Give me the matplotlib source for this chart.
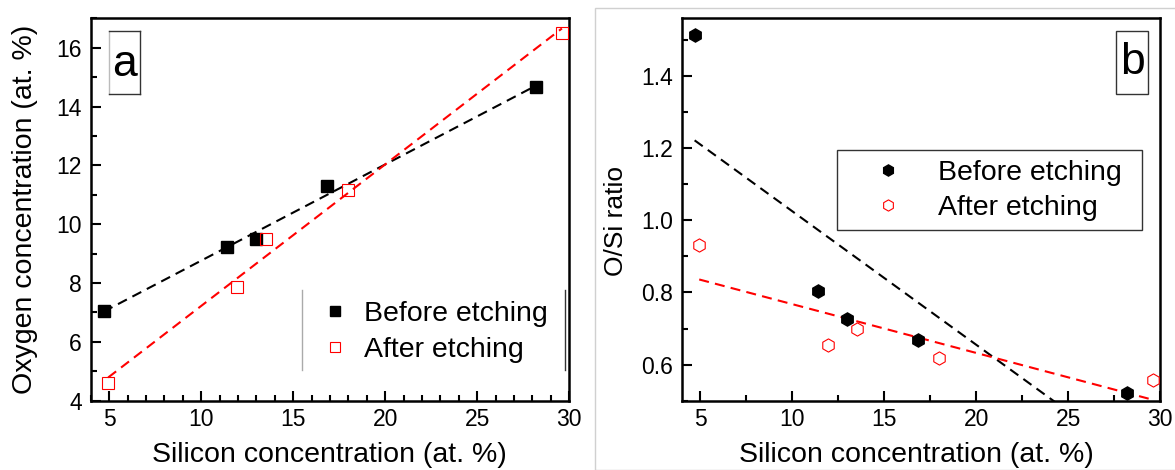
import matplotlib.pyplot as plt
import numpy as np
from matplotlib.lines import Line2D
from matplotlib.patches import Rectangle
from matplotlib.ticker import AutoMinorLocator, FormatStrFormatter

plt.rcParams['font.family'] = ['Liberation Sans', 'DejaVu Sans']

# --- Data ---
si_before = [4.7, 11.43, 13.0, 16.85, 28.2]
o_before = [7.05, 9.23, 9.48, 11.3, 14.65]
si_after = [4.95, 11.97, 13.53, 18.0, 29.6]
o_after = [4.6, 7.85, 9.5, 11.15, 16.5]

ratio_before = [1.513, 0.805, 0.727, 0.667, 0.52]
ratio_after = [0.931, 0.653, 0.70, 0.619, 0.556]

labels = ['Before etching', 'After etching']


def fit_line(x, y):
    k, b = np.polyfit(x, y, 1)
    xs = np.linspace(min(x), max(x), 50)
    return xs, k * xs + b


def style_axes(ax, xminor):
    for s in ax.spines.values():
        s.set_linewidth(1.8)
    ax.tick_params(which='both', direction='in', top=False, right=False,
                   labelsize=16.5, width=1.5)
    ax.tick_params(axis='x', which='major', length=7, pad=5)
    ax.tick_params(axis='y', which='major', length=7, pad=6.5)
    ax.tick_params(which='minor', length=4)
    ax.xaxis.set_minor_locator(AutoMinorLocator(xminor))
    ax.yaxis.set_minor_locator(AutoMinorLocator(2))


fig = plt.figure(figsize=(11.75, 4.7), dpi=100)
ax1 = fig.add_axes([0.0772, 0.1475, 0.4073, 0.8136])
ax2 = fig.add_axes([0.5802, 0.1475, 0.4071, 0.8136])

dash = (4.8, 3)

# --- Panel a ---
xs, ys = fit_line(si_before, o_before)
ax1.plot(xs, ys, color='black', lw=1.5, dashes=dash)
xs, ys = fit_line(si_after, o_after)
ax1.plot(xs, ys, color='red', lw=1.5, dashes=dash)
ax1.plot(si_before, o_before, 's', color='black', ms=9, label=labels[0], zorder=5)
ax1.plot(si_after, o_after, 's', mfc='none', mec='red', mew=0.8, ms=9,
         label=labels[1], zorder=5)

ax1.set_xlim(4, 30)
ax1.set_ylim(4, 17)
ax1.set_xticks([5, 10, 15, 20, 25, 30])
ax1.set_yticks([4, 6, 8, 10, 12, 14, 16])
style_axes(ax1, 5)
ax1.set_xlabel('Silicon concentration (at. %)', fontsize=20.5)
ax1.set_ylabel('Oxygen concentration (at. %)', fontsize=20.5)
ax1.xaxis.set_label_coords(0.498, -0.108)
ax1.yaxis.set_label_coords(-0.111, 0.5)

ax1.legend(loc='center', bbox_to_anchor=(0.723, 0.180), frameon=False,
           fontsize=20.5, markerscale=0.8, handlelength=0.6,
           handletextpad=0.72, labelspacing=0.35, borderpad=0)
# partial legend frame: only the vertical sides are drawn
ax1.add_line(Line2D([0.4413, 0.4413], [0.0803, 0.2895], transform=ax1.transAxes,
                    color='#aaaaaa', lw=1))
ax1.add_line(Line2D([0.9909, 0.9909], [0.0803, 0.2895], transform=ax1.transAxes,
                    color='#333333', lw=1))

# panel letter a
ax1.add_line(Line2D([0.0382, 0.0382], [0.802, 0.9668], transform=ax1.transAxes,
                    color='#bbbbbb', lw=1))
for xx, yy in [([0.0382, 0.103], [0.9668, 0.9668]),
               ([0.103, 0.103], [0.9668, 0.802]),
               ([0.0382, 0.103], [0.802, 0.802])]:
    ax1.add_line(Line2D(xx, yy, transform=ax1.transAxes, color='#333333', lw=1))
ax1.text(0.0713, 0.878, 'a', transform=ax1.transAxes, fontsize=32,
         ha='center', va='center')

# --- Panel b ---
xs, ys = fit_line(si_before, ratio_before)
ax2.plot(xs, ys, color='black', lw=1.5, dashes=dash)
xs, ys = fit_line(si_after, ratio_after)
ax2.plot(xs, ys, color='red', lw=1.5, dashes=dash)
ax2.plot(si_before, ratio_before, 'h', color='black', ms=9.5, label=labels[0], zorder=5)
ax2.plot(si_after, ratio_after, 'h', mfc='none', mec='red', mew=0.8, ms=9.5,
         label=labels[1], zorder=5)

ax2.set_xlim(4, 30)
ax2.set_ylim(0.5, 1.56)
ax2.set_xticks([5, 10, 15, 20, 25, 30])
ax2.set_yticks([0.6, 0.8, 1.0, 1.2, 1.4])
ax2.yaxis.set_major_formatter(FormatStrFormatter('%.1f'))
style_axes(ax2, 2)
ax2.set_xlabel('Silicon concentration (at. %)', fontsize=20.5)
ax2.set_ylabel('O/Si ratio', fontsize=19)
ax2.xaxis.set_label_coords(0.491, -0.108)
ax2.yaxis.set_label_coords(-0.113, 0.471)

ax2.add_patch(Rectangle((0.3236, 0.4464), 0.6394, 0.21, transform=ax2.transAxes,
                        fc='white', ec='#333333', lw=1, zorder=4))
ax2.legend(loc='center', bbox_to_anchor=(0.6663, 0.5497), frameon=False,
           fontsize=20.5, markerscale=0.85, handlelength=0.6,
           handletextpad=1.44, labelspacing=0.33, borderpad=0)

ax2.add_patch(Rectangle((0.908, 0.802), 0.067, 0.1648, transform=ax2.transAxes,
                        fill=False, ec='#333333', lw=1))
ax2.text(0.942, 0.885, 'b', transform=ax2.transAxes, fontsize=32,
         ha='center', va='center')

# faint border around panel b
fig.patches.append(Rectangle((595 / 1175, 0.0), 0.5, 1 - 8 / 470,
                             transform=fig.transFigure, fill=False,
                             ec='#d0d0d0', lw=1))

fig.savefig('out.png', dpi=100)
